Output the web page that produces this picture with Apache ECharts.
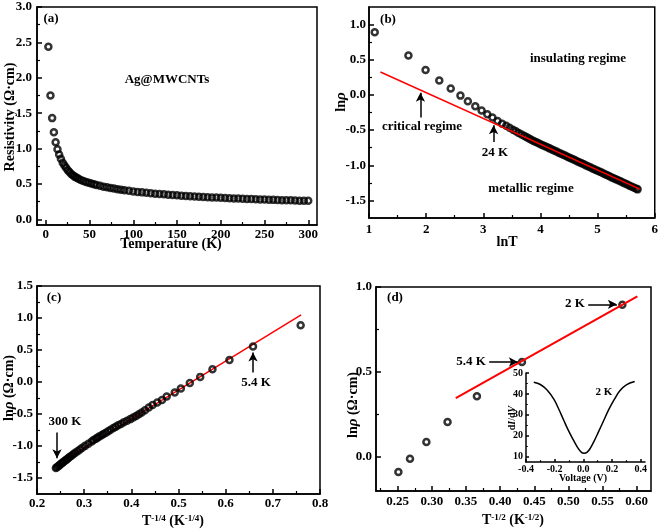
<!DOCTYPE html>
<html><head><meta charset="utf-8">
<script src="https://cdn.jsdelivr.net/npm/echarts@6/dist/echarts.min.js"></script>
<style>html,body{margin:0;padding:0;background:#fff}#c{width:661px;height:531px}</style>
</head><body><div id="c"></div><script>
// ---------- DATA ----------
// (a) resistivity vs temperature
const tempA = [3,5.4,7.3,9.3,11.3,13.4,15.3,17.3,19.4,21.4,23.4,25.4,27.4,29.4,31.4,33.4,35.4,37.4,40,43,46,49,52,55,58,62,66,70,74,78,82,86,90,95,100,
  105,110,115,120,125,130,135,140,145,150,155,160,165,170,175,180,185,190,195,200,205,210,215,220,225,230,235,240,245,250,255,260,265,270,275,280,285,290,295,300];
const rhoA = [2.44,1.75,1.43,1.23,1.09,0.99,0.915,0.855,0.80,0.759,0.726,0.691,0.664,0.638,0.619,0.600,0.586,0.572,0.557,0.542,0.528,0.516,0.505,0.495,0.485,0.473,0.462,0.452,0.443,0.434,0.426,0.418,0.411,0.403,0.395,
  0.388,0.381,0.375,0.369,0.363,0.358,0.353,0.348,0.343,0.339,0.335,0.331,0.327,0.323,0.320,0.316,0.313,0.310,0.307,0.304,0.301,0.298,0.296,0.293,0.291,0.288,0.286,0.284,0.282,0.279,0.277,0.275,0.273,0.271,0.270,0.268,0.266,0.264,0.262,0.261];

// (b) ln(rho) vs ln(T)
const lnTB = [1.10,1.69,1.99,2.23,2.43,2.60,2.73,2.86,2.97,3.07,3.16,3.25,3.33,3.40,3.46,3.52,3.57,3.62,3.67,3.72,3.76,3.80,3.84,3.88,3.92,3.96,
  4.00,4.04,4.08,4.12,4.16,4.20,4.24,4.28,4.32,4.36,4.40,4.44,4.48,4.52,4.56,4.60,4.64,4.68,4.72,4.76,4.80,4.84,4.88,4.92,4.96,5.00,5.04,5.08,5.12,5.16,5.20,5.24,5.28,5.32,5.36,5.40,5.44,5.48,5.52,5.56,5.60,5.64,5.68,5.70];
const lnRhoB = [0.89,0.56,0.355,0.205,0.09,-0.01,-0.09,-0.16,-0.22,-0.276,-0.32,-0.37,-0.41,-0.44,-0.468,-0.495,-0.518,-0.54,-0.563,-0.585,-0.603,-0.62,-0.637,-0.654,-0.67,-0.685,
  -0.700,-0.715,-0.730,-0.745,-0.760,-0.776,-0.791,-0.806,-0.821,-0.836,-0.851,-0.866,-0.881,-0.897,-0.912,-0.927,-0.942,-0.957,-0.972,-0.987,-1.002,-1.018,-1.033,-1.048,-1.063,-1.078,-1.093,-1.108,-1.123,-1.138,-1.154,-1.169,-1.184,-1.199,-1.214,-1.229,-1.244,-1.259,-1.275,-1.290,-1.305,-1.320,-1.335,-1.343];
const fitBx = [1.2, 5.74];
const fitBy = [0.326, -1.34];

// (c) ln(rho) vs T^-1/4
const xC = [0.759,0.658,0.608,0.572,0.546,0.524,0.505,0.492,0.475,0.465,0.455,0.445,0.437,0.429,0.422,0.416,0.410,0.404,0.398,0.391,0.384,0.378,0.372,0.367,0.362,0.356,0.351,0.346,0.341,0.337,0.332,0.328,0.325,0.320,0.316,
  0.309,0.302,0.296,0.291,0.286,0.281,0.277,0.273,0.269,0.266,0.263,0.260,0.257,0.254,0.252,0.249,0.247,0.245,0.242,0.240];
const yC = [0.885,0.555,0.345,0.20,0.08,-0.015,-0.10,-0.165,-0.228,-0.28,-0.322,-0.36,-0.40,-0.44,-0.475,-0.505,-0.53,-0.555,-0.58,-0.605,-0.63,-0.655,-0.677,-0.70,-0.72,-0.745,-0.77,-0.792,-0.813,-0.833,-0.852,-0.87,-0.888,-0.908,-0.928,
  -0.965,-0.998,-1.028,-1.056,-1.082,-1.106,-1.129,-1.151,-1.171,-1.191,-1.209,-1.227,-1.244,-1.260,-1.275,-1.290,-1.304,-1.318,-1.331,-1.344];
const fitCx = [0.24, 0.76];
const fitCy = [-1.30, 1.05];

// (d) ln(rho) vs T^-1/2
const xD = [0.251,0.268,0.292,0.323,0.366,0.432,0.579];
const yD = [-0.088,-0.01,0.088,0.206,0.357,0.559,0.896];
const fitDx = [0.335, 0.601];
const fitDy = [0.347, 0.945];

// (d) inset: dI/dV vs voltage at 2 K
const voltage = [-0.346,-0.300,-0.253,-0.206,-0.171,-0.136,-0.101,-0.066,-0.036,-0.013,0.005,0.025,0.048,0.076,0.107,0.142,0.177,0.217,0.256,0.300,0.358];
const dIdV = [45.6,44.5,41.9,37.5,32.7,27.3,22.1,17.6,14.0,12.1,11.7,12.1,14.0,17.6,22.1,27.3,32.5,37.5,41.6,44.3,45.9];

// tick values
const ticksAx = [0,50,100,150,200,250,300], minAx = [25,75,125,175,225,275];
const ticksAy = [0,0.5,1,1.5,2,2.5,3], minAy = [0.25,0.75,1.25,1.75,2.25,2.75];
const ticksBx = [1,2,3,4,5,6], minBx = [1.5,2.5,3.5,4.5,5.5];
const ticksBy = [-1.5,-1,-0.5,0,0.5,1], minBy = [-1.25,-0.75,-0.25,0.25,0.75];
const ticksCx = [0.2,0.3,0.4,0.5,0.6,0.7,0.8], minCx = [0.25,0.35,0.45,0.55,0.65,0.75];
const ticksCy = [-1.5,-1,-0.5,0,0.5,1,1.5], minCy = [-1.25,-0.75,-0.25,0.25,0.75,1.25];
const ticksDx = [0.25,0.3,0.35,0.4,0.45,0.5,0.55,0.6], minDx = [0.225,0.275,0.325,0.375,0.425,0.475,0.525,0.575];
const ticksDy = [0,0.5,1], minDy = [-0.25,0.25,0.75];
const ticksIx = [-0.4,-0.2,0,0.2,0.4], minIx = [-0.3,-0.1,0.1,0.3];
const ticksIy = [10,20,30,40,50], minIy = [15,25,35,45];

// annotation arrows (data coordinates: from -> to)
const arrowsB = [[[1.90,-0.32],[1.90,0.03]], [[3.18,-0.67],[3.18,-0.43]]];
const arrowsC = [[[0.2424,-0.79],[0.2424,-1.19]], [[0.658,0.15],[0.658,0.46]]];
const arrowsD = [[[0.529,0.898],[0.571,0.898]], [[0.384,0.559],[0.426,0.559]]];

// ---------- CHART ----------
const FONT = '"Liberation Serif","Times New Roman",serif';
const zip = (a,b) => a.map((v,i)=>[v,b[i]]);

function axisPair(gridIndex, pos, min, max, majors, minors, dec, margin, fs, tl) {
  const base = {type:'value', gridIndex, min, max, position:pos, offset:0, splitLine:{show:false}, axisPointer:{show:false}};
  const major = Object.assign({}, base, {
    axisLine:{show:true,onZero:false,lineStyle:{color:'#000',width:1.5}},
    axisTick:{show:true,inside:true,length:tl||5,customValues:majors,lineStyle:{color:'#000',width:1.5}},
    axisLabel:{show:true,customValues:majors,formatter:v=>v.toFixed(dec),color:'#000',fontFamily:FONT,fontWeight:'bold',fontSize:fs||13,margin:margin}
  });
  const minor = Object.assign({}, base, {
    axisLine:{show:false,onZero:false}, axisLabel:{show:false},
    axisTick:{show:true,inside:true,length:(tl||5)*0.6,customValues:minors,lineStyle:{color:'#000',width:1.2}}
  });
  return [major, minor];
}

const grids = [
  {left:37, top:7, width:280, height:218},
  {left:369, top:7, width:286, height:211},
  {left:37, top:286, width:283, height:208},
  {left:376, top:287, width:275, height:204},
  {left:526, top:373, width:119, height:89}
].map((g,i)=>Object.assign(g,{show:i<4,borderColor:'#000',borderWidth:1.5,containLabel:false}));

const xAxes = [].concat(
  axisPair(0,'bottom',-10,310,ticksAx,minAx,0,3),
  axisPair(1,'bottom',1,6,ticksBx,minBx,0,5),
  axisPair(2,'bottom',0.2,0.8,ticksCx,minCx,1,3),
  axisPair(3,'bottom',0.2182,0.621,ticksDx,minDx,2,4),
  axisPair(4,'bottom',-0.4,0.43,ticksIx,minIx,1,2,10,3)
);
const yAxes = [].concat(
  axisPair(0,'left',-0.08,3.0,ticksAy,minAy,1,5),
  axisPair(1,'left',-1.75,1.25,ticksBy,minBy,1,3),
  axisPair(2,'left',-1.75,1.5,ticksCy,minCy,1,4),
  axisPair(3,'left',-0.2,1.0,ticksDy,minDy,1,4),
  axisPair(4,'left',7.5,50,ticksIy,minIy,0,3,10,3)
);

const circleStyle = {color:'rgba(0,0,0,0)', borderColor:'#000', borderWidth:2.5};
function scatter(ai, data) {
  return {type:'scatter', xAxisIndex:ai*2, yAxisIndex:ai*2, data, symbol:'circle', symbolSize:6, itemStyle:circleStyle, silent:true, z:2};
}
function fit(ai, data, w, z) {
  return {type:'line', xAxisIndex:ai*2, yAxisIndex:ai*2, data, symbol:'none', lineStyle:{color:'#ff0000', width:w}, silent:true, z:z};
}
function arrows(ai, list) {
  return {type:'line', xAxisIndex:ai*2, yAxisIndex:ai*2, data:[], silent:true, z:4,
    markLine:{silent:true, animation:false, symbol:['none','arrow'], symbolSize:[7,9], label:{show:false},
      lineStyle:{color:'#000', width:1.5, type:'solid'},
      data:list.map(p=>[{coord:p[0]},{coord:p[1]}])}};
}

const series = [
  scatter(0, zip(tempA, rhoA)),
  scatter(1, zip(lnTB, lnRhoB)), fit(1, zip(fitBx, fitBy), 1.5, 3), arrows(1, arrowsB),
  scatter(2, zip(xC, yC)), fit(2, zip(fitCx, fitCy), 1.5, 1), arrows(2, arrowsC),
  scatter(3, zip(xD, yD)), fit(3, zip(fitDx, fitDy), 2, 3), arrows(3, arrowsD),
  {type:'line', xAxisIndex:8, yAxisIndex:8, data:zip(voltage, dIdV), symbol:'none', smooth:0.4, lineStyle:{color:'#000', width:1.5}, silent:true}
];

const rich = {
  it:{fontStyle:'italic', fontFamily:FONT, fontWeight:'bold', fontSize:15, fill:'#000'},
  it2:{fontStyle:'italic', fontFamily:FONT, fontWeight:'bold', fontSize:10, fill:'#000'},
  sup:{fontFamily:FONT, fontWeight:'bold', fontSize:9, verticalAlign:'top', fill:'#000'}
};
function txt(x, y, text, size, rot) {
  return {type:'text', x, y, rotation:rot||0, silent:true, z:10,
    style:{text, fontFamily:FONT, fontWeight:'bold', fontSize:size||13, fill:'#000', align:'center', verticalAlign:'middle', rich}};
}
const R = Math.PI/2;
const graphic = [
  txt(51,19,'(a)'), txt(167,80,'Ag@MWCNTs'),
  txt(388,20,'(b)'), txt(578,59,'insulating regime'), txt(422,127,'critical regime'), txt(495,153,'24 K'), txt(531,189,'metallic regime'),
  txt(54,298,'(c)'), txt(65,422,'300 K'), txt(256,383,'5.4 K'),
  txt(395,298,'(d)'), txt(575,304,'2 K'), txt(471,362,'5.4 K'), txt(604,392,'2 K',11),
  txt(10,117,'Resistivity (Ω·cm)',14,R), txt(171,244,'Temperature (K)',14),
  txt(341,102,'ln{it|ρ}',14,R), txt(507,242,'lnT',14),
  txt(9,388,'ln{it|ρ} (Ω·cm)',14,R), txt(173,521,'T{sup|-1/4} (K{sup|-1/4})',14),
  txt(353,405,'ln{it|ρ} (Ω·cm)',14,R), txt(513,520,'T{sup|-1/2} (K{sup|-1/2})',14),
  txt(512,418,'d{it2|I}/d{it2|V}',10,R), txt(583,478,'Voltage (V)',10)
];

const chart = echarts.init(document.getElementById('c'), null, {renderer:'canvas'});
chart.setOption({animation:false, backgroundColor:'#fff', grid:grids, xAxis:xAxes, yAxis:yAxes, series, graphic});
</script></body></html>
